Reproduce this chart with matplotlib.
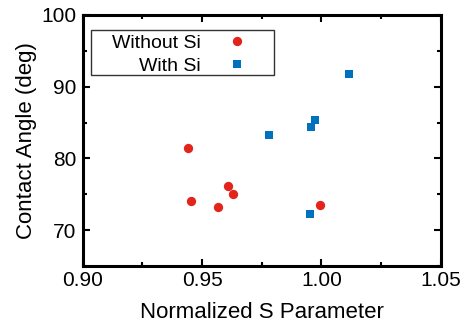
import matplotlib
matplotlib.use("Agg")
from matplotlib import pyplot as plt
from matplotlib.ticker import MultipleLocator
from matplotlib.patches import Rectangle

plt.rcParams['font.family'] = ['Liberation Sans', 'DejaVu Sans']

# data
s_without = [0.944, 0.9452, 0.9568, 0.9607, 0.9631, 0.9994]
ca_without = [81.5, 74.0, 73.2, 76.2, 75.0, 73.5]
s_with = [0.9781, 0.9957, 0.9973, 1.0117, 0.9954]
ca_with = [83.2, 84.4, 85.3, 91.8, 72.2]

x_ticks = [0.90, 0.95, 1.00, 1.05]
y_ticks = [70, 80, 90, 100]

fig = plt.figure(figsize=(4.67, 3.22), dpi=100)
ax = fig.add_axes([82.7/467, 1-266/322, 358/467, 251/322])

ax.plot(s_without, ca_without, 'o', color='#e3241b', ms=6.7, mew=0, label="Without Si")
ax.plot(s_with, ca_with, 's', color='#0072bd', ms=6, mew=0, label="With Si")

ax.set_xlim(0.90, 1.05)
ax.set_ylim(65, 100)
ax.set_xticks(x_ticks)
ax.set_xticklabels(["%.2f" % v for v in x_ticks])
ax.set_yticks(y_ticks)
ax.xaxis.set_minor_locator(MultipleLocator(0.025))
ax.yaxis.set_minor_locator(MultipleLocator(5))
ax.tick_params(which='both', direction='in', top=True, right=True, labelsize=15, width=1.5)
ax.tick_params(axis='x', which='both', pad=3.5)
ax.tick_params(axis='y', which='both', pad=4.5)
ax.tick_params(which='major', length=5)
ax.tick_params(which='minor', length=3)
for sp in ax.spines.values():
    sp.set_linewidth(2.2)

ax.set_xlabel("Normalized S Parameter", fontsize=16, labelpad=8.5)
ax.set_ylabel("Contact Angle (deg)", fontsize=16, labelpad=3)

# legend: entries right-aligned, markers after text, frame drawn separately
leg = ax.legend(loc='upper right', bbox_to_anchor=((246.4-82.7)/358, 1-(34.5-15)/251),
                markerfirst=False, fontsize=14, frameon=False,
                handletextpad=1.34, handlelength=1.0, borderpad=0, labelspacing=0.27,
                borderaxespad=0)
ax.add_patch(Rectangle((8/358, 1-59.7/251), 183.3/358, 44.4/251, transform=ax.transAxes,
                       fill=False, edgecolor='#333333', lw=1, zorder=5))

fig.savefig("out.png", dpi=100)
